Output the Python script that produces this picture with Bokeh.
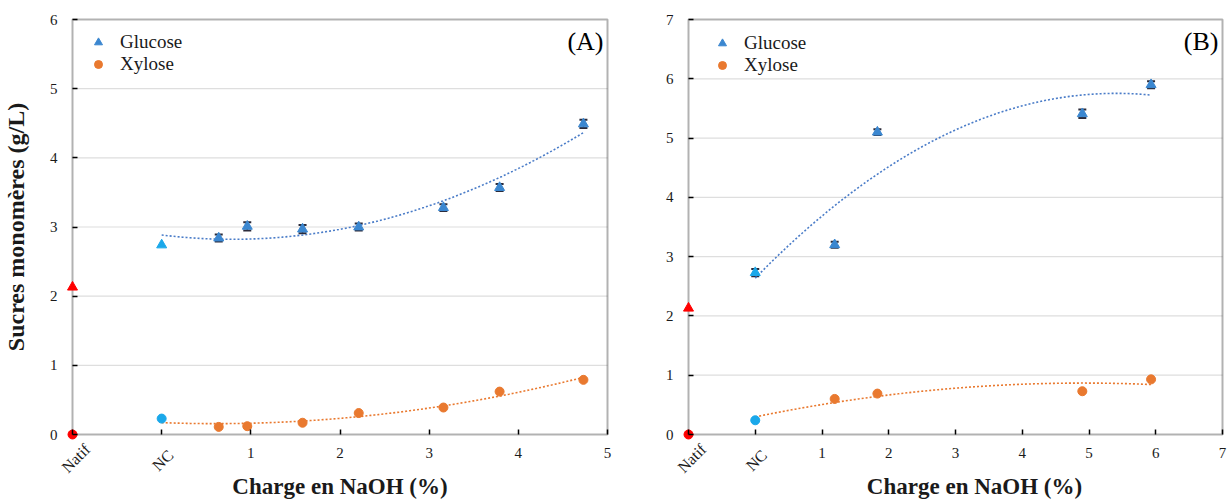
import numpy as np
from math import pi
from bokeh.plotting import figure
from bokeh.models import (Range1d, FixedTicker, LinearAxis, Legend, LegendItem,
                          Whisker, ColumnDataSource, TeeHead, BoxAnnotation, Label)
from bokeh.layouts import row
from bokeh.embed import file_html
from bokeh.resources import INLINE

# ---------------- data ----------------
cat_labels = ["Natif", "NC"]
cat_positions = [-1, 0]

natif_glucose = 2.13
natif_xylose = 0.0

# Panel A
a_x = [0.64, 0.96, 1.58, 2.21, 3.16, 3.79, 4.73]
a_glucose = [2.84, 3.01, 2.97, 3.00, 3.28, 3.57, 4.49]
a_glucose_err = [0.05, 0.06, 0.06, 0.05, 0.05, 0.05, 0.06]
a_xylose = [0.11, 0.12, 0.17, 0.31, 0.39, 0.62, 0.79]
a_nc_glucose = 2.74
a_nc_glucose_err = 0.0
a_nc_xylose = 0.23
a_x_ticks = [-1, 0, 1, 2, 3, 4, 5]
a_y_ticks = [0, 1, 2, 3, 4, 5, 6]

# Panel B
b_x = [1.19, 1.83, 4.90, 5.93]
b_glucose = [3.20, 5.10, 5.41, 5.90]
b_glucose_err = [0.05, 0.05, 0.07, 0.06]
b_xylose = [0.60, 0.69, 0.73, 0.93]
b_nc_glucose = 2.73
b_nc_glucose_err = 0.06
b_nc_xylose = 0.24
b_x_ticks = [-1, 0, 1, 2, 3, 4, 5, 6, 7]
b_y_ticks = [0, 1, 2, 3, 4, 5, 6, 7]

# ---------------- style ----------------
SERIF = "Liberation Serif"
BLUE = "#3b87d0"
TREND_BLUE = "#4a7cc8"
ORANGE = "#e9792f"
NC_BLUE = "#1aa8ea"
RED = "#ff0000"
TXT = "#1a1a1a"
HEIGHT = 500
BOX_TOP, BOX_BOTTOM = 19, 434          # pixel rows of the plot box
CAT_SHIFT = [15, 9]                    # px shift of rotated labels (Natif, NC)
CAT_STANDOFF = [6, 12]


def trend(xs, ys, deg=2):
    c = np.polyfit(xs, ys, deg)
    xx = np.linspace(min(xs), max(xs), 120)
    return xx, np.polyval(c, xx)


def panel(fig_left, width, box_left, box_right, x_ticks, y_ticks, x, glu, glu_err, xyl,
          nc_glu, nc_glu_err, nc_xyl, tag, ylabel, leg, xlabel_shift):
    x0, x1 = x_ticks[0], x_ticks[-1]
    y0, y1 = y_ticks[0], y_ticks[-1]
    kx = (box_right - box_left) / (x1 - x0)
    ky = (BOX_BOTTOM - BOX_TOP) / (y1 - y0)
    pad_l = box_left - fig_left
    pad_r = fig_left + width - box_right
    pad_t = BOX_TOP
    pad_b = HEIGHT - BOX_BOTTOM
    # the frame covers the whole canvas; axes are pinned to the plot box
    p = figure(width=width, height=HEIGHT,
               x_range=Range1d(x0 - pad_l / kx, x1 + pad_r / kx),
               y_range=Range1d(y0 - pad_b / ky, y1 + pad_t / ky),
               output_backend="svg", toolbar_location=None,
               min_border_left=0, min_border_right=0,
               min_border_top=0, min_border_bottom=0)
    if p.title is not None:
        p.title.visible = False
    p.background_fill_color = "white"
    p.border_fill_color = "white"
    p.outline_line_color = None
    p.grid.grid_line_color = None

    # horizontal gridlines and plot box
    gy = y_ticks[1:-1]
    p.segment(x0=[x0] * len(gy), x1=[x1] * len(gy), y0=gy, y1=gy,
              line_color="#dedede", line_width=1.2, level="underlay")
    p.add_layout(BoxAnnotation(left=x0, right=x1, bottom=y0, top=y1,
                               fill_alpha=0, line_color="black", line_width=2,
                               level="underlay"))

    p.xaxis.fixed_location = y0
    p.yaxis.fixed_location = x0
    # bounds centre the axis title (shifted to the right where the original is)
    p.xaxis.bounds = (x0 + 2 * xlabel_shift / kx, x1)
    p.yaxis.bounds = (y0, y1)
    p.xaxis.ticker = FixedTicker(ticks=x_ticks)
    p.yaxis.ticker = FixedTicker(ticks=y_ticks)
    p.xaxis.major_label_overrides = {cat_positions[0]: "", cat_positions[1]: ""}
    for ax in (p.xaxis[0], p.yaxis[0]):
        ax.axis_line_color = None
        ax.major_tick_in = 5
        ax.major_tick_out = 0
        ax.major_tick_line_color = "black"
        ax.major_tick_line_width = 1.5
        ax.minor_tick_line_color = None
        ax.major_label_text_font = SERIF
        ax.major_label_text_font_size = "15px"
        ax.major_label_text_color = TXT
    p.xaxis.major_label_standoff = 13
    p.yaxis.major_label_standoff = 15

    p.xaxis.axis_label = "Charge en NaOH (%)"
    p.xaxis.axis_label_text_font = SERIF
    p.xaxis.axis_label_text_font_style = "bold"
    p.xaxis.axis_label_text_font_size = "23px"
    p.xaxis.axis_label_text_color = TXT
    p.xaxis.axis_label_standoff = 13
    if ylabel:
        p.yaxis.axis_label = ylabel
        p.yaxis.axis_label_text_font = SERIF
        p.yaxis.axis_label_text_font_style = "bold"
        p.yaxis.axis_label_text_font_size = "24px"
        p.yaxis.axis_label_text_color = TXT
        p.yaxis.axis_label_standoff = 18

    # rotated category labels (one pinned axis each, shifted to centre on ticks)
    extra = {}
    for i, pos in enumerate(cat_positions):
        shift = CAT_SHIFT[i] / kx
        extra["cat%d" % i] = Range1d(p.x_range.start - shift, p.x_range.end - shift)
    p.extra_x_ranges = extra
    for i, (pos, lab) in enumerate(zip(cat_positions, cat_labels)):
        cat_ax = LinearAxis(x_range_name="cat%d" % i, fixed_location=y0,
                            ticker=FixedTicker(ticks=[pos]),
                            major_label_overrides={pos: lab},
                            major_label_orientation=pi / 4,
                            axis_line_color=None, major_tick_line_color=None,
                            minor_tick_line_color=None,
                            major_label_standoff=CAT_STANDOFF[i],
                            major_label_text_font=SERIF,
                            major_label_text_font_size="16px",
                            major_label_text_color=TXT)
        p.add_layout(cat_ax, "below")

    # trend lines (polynomial fits of the data)
    tx, ty = trend([cat_positions[1]] + x, [nc_glu] + glu)
    p.line(tx, ty, line_color=TREND_BLUE, line_width=1.6, line_dash="2 2")
    tx, ty = trend([cat_positions[1]] + x, [nc_xyl] + xyl)
    p.line(tx, ty, line_color=ORANGE, line_width=1.6, line_dash="2 2")

    # error bars
    ex, eg, ee = list(x), list(glu), list(glu_err)
    if nc_glu_err > 0:
        ex = [cat_positions[1]] + ex
        eg = [nc_glu] + eg
        ee = [nc_glu_err] + ee
    src = ColumnDataSource(dict(
        x=ex,
        upper=[g + e for g, e in zip(eg, ee)],
        lower=[g - e for g, e in zip(eg, ee)]))
    p.add_layout(Whisker(source=src, base="x", upper="upper", lower="lower",
                         line_color="#2b2b3a", line_width=1.5,
                         upper_head=TeeHead(size=8, line_color="#2b2b3a", line_width=2),
                         lower_head=TeeHead(size=8, line_color="#2b2b3a", line_width=2)))

    rg = p.scatter(x, glu, marker="triangle", size=10, fill_color=BLUE, line_color=BLUE)
    rx = p.scatter(x, xyl, marker="circle", size=9, fill_color=ORANGE, line_color=ORANGE)
    p.scatter([cat_positions[1]], [nc_glu], marker="triangle", size=10,
              fill_color=NC_BLUE, line_color=NC_BLUE)
    p.scatter([cat_positions[1]], [nc_xyl], marker="circle", size=9,
              fill_color=NC_BLUE, line_color=NC_BLUE)
    # native (untreated) sample
    p.scatter([cat_positions[0]], [natif_glucose], marker="triangle", size=10,
              fill_color=RED, line_color=RED)
    p.scatter([cat_positions[0]], [natif_xylose], marker="circle", size=9,
              fill_color=RED, line_color=RED)

    # panel tag
    p.add_layout(Label(x=x1, y=y1, text=tag, x_offset=-4, y_offset=-22,
                       text_align="right", text_baseline="middle",
                       text_font=SERIF, text_font_size="26px", text_color="black"))

    vx, vy = leg
    legend = Legend(items=[LegendItem(label="Glucose", renderers=[rg]),
                           LegendItem(label="Xylose", renderers=[rx])],
                    location=(vx, vy), margin=0, padding=0,
                    glyph_width=20, glyph_height=20, label_height=20,
                    label_standoff=12, spacing=-3,
                    background_fill_alpha=0, border_line_color=None,
                    label_text_font=SERIF, label_text_font_size="19px",
                    label_text_color=TXT)
    p.add_layout(legend)
    return p


pA = panel(0, 648, 72, 607, a_x_ticks, a_y_ticks, a_x, a_glucose, a_glucose_err, a_xylose,
           a_nc_glucose, a_nc_glucose_err, a_nc_xylose, "(A)",
           "Sucres monomères (g/L)", (88, 425), 0)
pB = panel(648, 580, 688, 1222, b_x_ticks, b_y_ticks, b_x, b_glucose, b_glucose_err, b_xylose,
           b_nc_glucose, b_nc_glucose_err, b_nc_xylose, "(B)", None, (64, 424), 19)

layout = row(pA, pB)
open("out.html", "w").write(file_html(layout, INLINE))
